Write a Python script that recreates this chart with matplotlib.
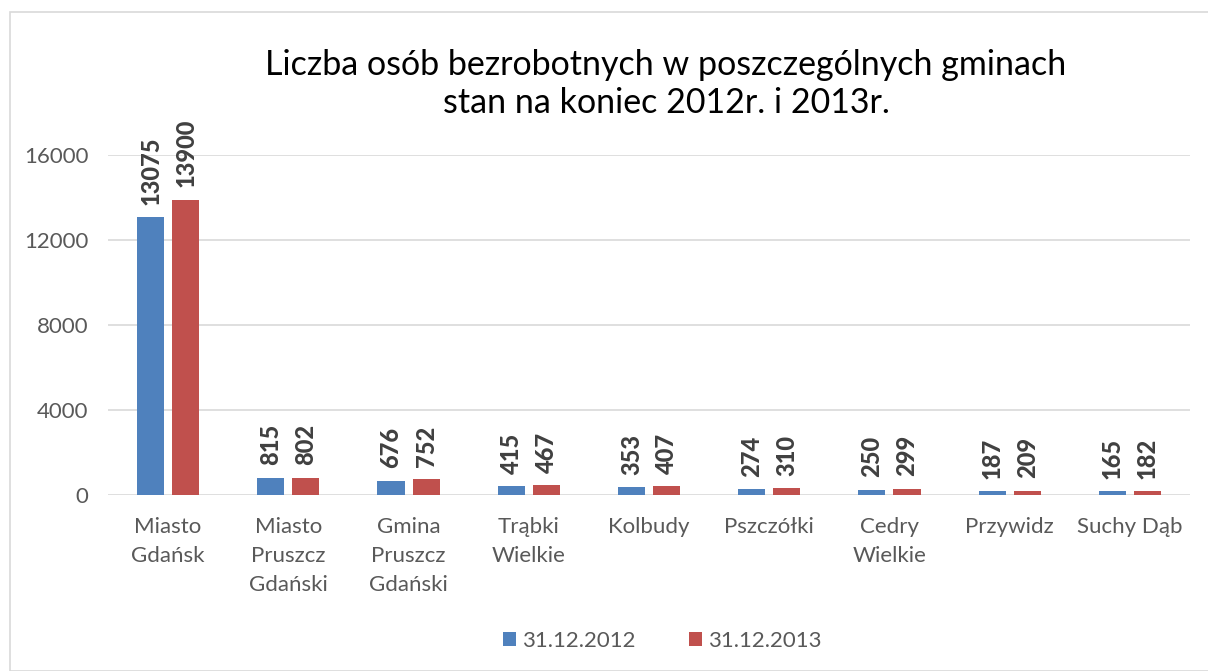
import numpy as np
import matplotlib.pyplot as plt
from matplotlib.patches import Rectangle

categories = ["Miasto\nGdańsk", "Miasto\nPruszcz\nGdański", "Gmina\nPruszcz\nGdański",
              "Trąbki\nWielkie", "Kolbudy", "Pszczółki", "Cedry\nWielkie",
              "Przywidz", "Suchy Dąb"]
v2012 = [13075, 815, 676, 415, 353, 274, 250, 187, 165]
v2013 = [13900, 802, 752, 467, 407, 310, 299, 209, 182]
series_names = ["31.12.2012", "31.12.2013"]
yticks = [0, 4000, 8000, 12000, 16000]

BLUE = '#4F81BD'
RED = '#C0504D'
GRID = '#D9D9D9'
TXT = '#595959'

plt.rcParams['font.family'] = ['Lato', 'DejaVu Sans']

W, H = 1208, 671
fig = plt.figure(figsize=(W / 100, H / 100), dpi=100)
ax = fig.add_axes([108 / W, 1 - 495 / H, (1190 - 108) / W, (495 - 155) / H])

# outer chart border
fig.patches.append(Rectangle((9.5 / W, 0), 1.2, 1 - 11.5 / H,
                             transform=fig.transFigure, fill=False,
                             ec=GRID, lw=1.2))

x = np.arange(len(categories))
bw = 0.225
off = 0.146
b1 = ax.bar(x - off, v2012, bw, color=BLUE, label=series_names[0], zorder=3)
b2 = ax.bar(x + off, v2013, bw, color=RED, label=series_names[1], zorder=3)

for bars in (b1, b2):
    for r in bars:
        ax.annotate(f"{int(r.get_height())}",
                    (r.get_x() + r.get_width() / 2, r.get_height()),
                    xytext=(0, 9), textcoords='offset points',
                    rotation=90, ha='center', va='bottom',
                    fontsize=17, fontweight='black', color='#404040')

ax.set_xlim(-0.5, len(categories) - 0.5)
ax.set_ylim(0, 16000)
ax.set_yticks(yticks)
ax.set_yticklabels([str(t) for t in yticks], fontsize=16, color=TXT)
ax.set_xticks(x)
ax.set_xticklabels(categories, fontsize=16, color=TXT, linespacing=1.55,
                   va='top')
ax.tick_params(axis='both', length=0)
ax.tick_params(axis='x', pad=16)
ax.tick_params(axis='y', pad=14)
ax.grid(axis='y', color=GRID, lw=1.2, zorder=0)
for s in ax.spines.values():
    s.set_visible(False)

fig.text(666 / W, 1 - 84 / H,
         "Liczba osób bezrobotnych w poszczególnych gminach\nstan na koniec 2012r. i 2013r.",
         ha='center', va='center', fontsize=24.5, color='black', linespacing=1.2)

leg = fig.legend(handles=[b1, b2], loc='center', bbox_to_anchor=(662 / W, 1 - 641 / H),
                 ncol=2, frameon=False, fontsize=16, handlelength=0.6,
                 handleheight=0.6, handletextpad=0.25, columnspacing=2.4)
for t in leg.get_texts():
    t.set_color(TXT)

fig.savefig('out.png', dpi=100)
